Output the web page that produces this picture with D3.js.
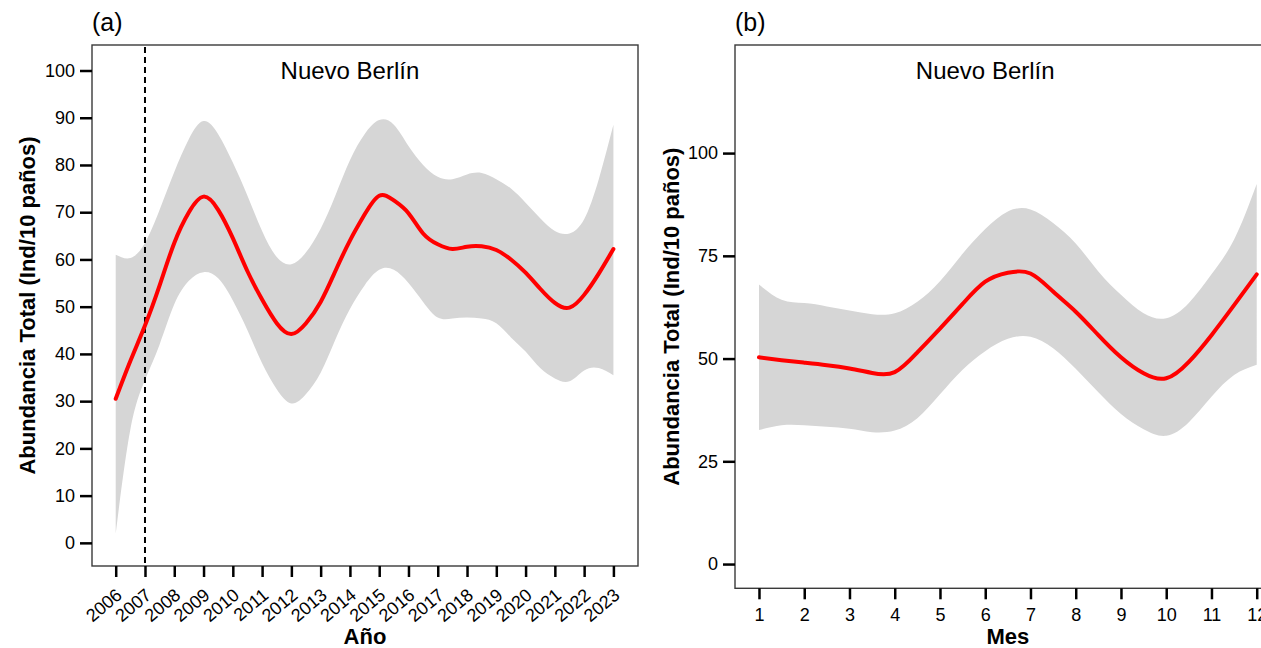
<!DOCTYPE html>
<html lang="es">
<head>
<meta charset="UTF-8">
<title>Nuevo Berlín</title>
<script src="https://cdnjs.cloudflare.com/ajax/libs/d3/7.8.5/d3.min.js"></script>
<style>
  body { margin:0; background:#fff; }
  svg { display:block; font-family: "Liberation Sans", Arial, sans-serif; }
</style>
</head>
<body>
<svg width="1261" height="648"></svg>
<script>
// ---- panel (a): tendencia anual ----
const anios = [2006, 2006.5, 2007, 2007.5, 2008, 2008.5, 2009, 2009.5, 2010, 2010.5,
  2011, 2011.5, 2012, 2012.5, 2013, 2013.5, 2014, 2014.5, 2015, 2015.5, 2016, 2016.5,
  2017, 2017.5, 2018, 2018.5, 2019, 2019.5, 2020, 2020.5, 2021, 2021.5, 2022, 2022.5, 2023];
const ajusteA = [30.5, 38.5, 46, 54.5, 63.5, 70, 73.3, 70.5, 64.5, 57.5,
  51.5, 46.5, 44.2, 46.5, 51, 57.5, 64, 69.5, 73.5, 72.5, 69.8, 65.5,
  63.2, 62.2, 62.7, 62.8, 62, 60, 57.2, 53.8, 50.8, 49.8, 52.5, 57, 62.2];
const superiorA = [61, 60.3, 63.5, 70.5, 78.5, 85.5, 89.3, 86.5, 80.5, 73.5,
  66, 60.5, 59, 61.5, 66.5, 73.5, 81, 86.5, 89.5, 88.5, 84, 80,
  77.5, 77, 78, 78.3, 77, 75, 72, 68.7, 66, 65.5, 68.5, 77, 88.5];
const inferiorA = [2, 24, 34.5, 42, 50.5, 55.5, 57.3, 56, 51.3, 45,
  38, 32.5, 29.5, 31.5, 36, 43, 49.5, 54.5, 57.8, 57.8, 55, 51,
  47.7, 47.5, 47.7, 47.5, 46.5, 43.5, 40.5, 37, 34.8, 34.2, 36.5, 37, 35.5];
const ticksAnio = [2006, 2007, 2008, 2009, 2010, 2011, 2012, 2013, 2014, 2015,
  2016, 2017, 2018, 2019, 2020, 2021, 2022, 2023];
const ticksYA = [0, 10, 20, 30, 40, 50, 60, 70, 80, 90, 100];
const anioCorte = 2007;

// ---- panel (b): ciclo mensual ----
const meses = [1, 1.5, 2, 2.5, 3, 3.5, 4, 4.5, 5, 5.5, 6, 6.5, 7, 7.5, 8, 8.5,
  9, 9.5, 10, 10.5, 11, 11.5, 12];
const ajusteB = [50.3, 49.6, 49.0, 48.4, 47.6, 46.5, 46.7, 51.5, 57.3, 63.3, 68.7, 70.9,
  70.7, 66.3, 61.4, 55.7, 50.3, 46.4, 45.2, 49.2, 55.7, 63.0, 70.5];
const superiorB = [68, 64.3, 63.5, 62.7, 61.7, 60.8, 61, 63.8, 68.8, 75.5, 81.5, 85.8,
  86.3, 83, 78, 71.2, 65.5, 61, 59.8, 63.5, 70.5, 79, 92.5];
const inferiorB = [32.6, 33.8, 33.8, 33.4, 32.9, 32.1, 32.5, 35.5, 41.3, 47.3, 51.8, 54.8,
  55.3, 52.5, 47.5, 41.8, 36.5, 32.8, 31.2, 34.5, 40.7, 46, 48.5];
const ticksMes = [1, 2, 3, 4, 5, 6, 7, 8, 9, 10, 11, 12];
const ticksYB = [0, 25, 50, 75, 100];

const svg = d3.select('svg');
const tituloY = 'Abundancia Total (Ind/10 paños)';

function panel(cfg) {
  const g = svg.append('g');
  const x = cfg.x, y = cfg.y;
  const [x0, x1] = x.range(), [y1, y0] = y.range();

  const area = d3.area()
    .x((d, i) => x(cfg.xs[i]))
    .y0((d, i) => y(cfg.lo[i]))
    .y1((d, i) => y(cfg.hi[i]))
    .curve(d3.curveNatural);
  g.append('path')
    .attr('d', area(cfg.xs))
    .attr('fill', '#d6d6d6');

  if (cfg.corte != null) {
    g.append('line')
      .attr('x1', x(cfg.corte)).attr('x2', x(cfg.corte))
      .attr('y1', y0 + 2).attr('y2', y1)
      .attr('stroke', '#000')
      .attr('stroke-width', 2)
      .attr('stroke-dasharray', '6,4');
  }

  const linea = d3.line()
    .x((d, i) => x(cfg.xs[i]))
    .y((d, i) => y(cfg.fit[i]))
    .curve(d3.curveNatural);
  g.append('path')
    .attr('d', linea(cfg.xs))
    .attr('fill', 'none')
    .attr('stroke', '#ff0000')
    .attr('stroke-width', 4)
    .attr('stroke-linecap', 'round');

  // caja
  g.append('rect')
    .attr('x', x0).attr('y', y0)
    .attr('width', x1 - x0).attr('height', y1 - y0)
    .attr('fill', 'none')
    .attr('stroke', '#3a3a3a')
    .attr('stroke-width', 1.4);

  const ay = g.append('g')
    .attr('transform', `translate(${x0},0)`)
    .call(d3.axisLeft(y).tickValues(cfg.ticksY).tickSize(12).tickPadding(5));
  const ax = g.append('g')
    .attr('transform', `translate(0,${y1})`)
    .call(d3.axisBottom(x).tickValues(cfg.ticksX).tickFormat(d3.format('d'))
      .tickSize(11).tickPadding(9));
  [ax, ay].forEach(a => {
    a.select('.domain').remove();
    a.selectAll('.tick line').attr('stroke', '#000').attr('stroke-width', 2.5);
    a.selectAll('.tick text').attr('fill', '#000').style('font-size', '18px');
  });
  if (cfg.rotar) {
    ax.selectAll('.tick text')
      .attr('y', 0).attr('dy', 0)
      .attr('text-anchor', 'end')
      .attr('transform', 'translate(7,31) rotate(-40)');
  }

  // textos
  g.append('text')
    .attr('x', x0).attr('y', 31)
    .style('font-size', '25px')
    .text(cfg.letra);
  g.append('text')
    .attr('x', x(cfg.sitio[0])).attr('y', y(cfg.sitio[1]))
    .attr('text-anchor', 'middle')
    .attr('dy', '0.35em')
    .style('font-size', '24px')
    .text('Nuevo Berlín');
  g.append('text')
    .attr('x', (x0 + x1) / 2).attr('y', 644)
    .attr('text-anchor', 'middle')
    .style('font-size', '22px').style('font-weight', 'bold')
    .text(cfg.tituloX);
  g.append('text')
    .attr('transform', `translate(${cfg.yTitleX},${(y0 + y1) / 2}) rotate(-90)`)
    .attr('text-anchor', 'middle')
    .style('font-size', '22px').style('font-weight', 'bold')
    .text(tituloY);
}

panel({
  x: d3.scaleLinear().domain([2005.19, 2023.84]).range([92, 638]),
  y: d3.scaleLinear().domain([-4.9, 105.4]).range([566, 45]),
  xs: anios, fit: ajusteA, hi: superiorA, lo: inferiorA,
  ticksX: ticksAnio, ticksY: ticksYA, corte: anioCorte, rotar: true,
  letra: '(a)', sitio: [2014, 100], tituloX: 'Año', yTitleX: 35
});

panel({
  x: d3.scaleLinear().domain([0.47, 12.53]).range([735, 1280.7]),
  y: d3.scaleLinear().domain([-5.9, 126.3]).range([588.3, 45]),
  xs: meses, fit: ajusteB, hi: superiorB, lo: inferiorB,
  ticksX: ticksMes, ticksY: ticksYB, corte: null, rotar: false,
  letra: '(b)', sitio: [6, 120], tituloX: 'Mes', yTitleX: 678.5
});
</script>
</body>
</html>
